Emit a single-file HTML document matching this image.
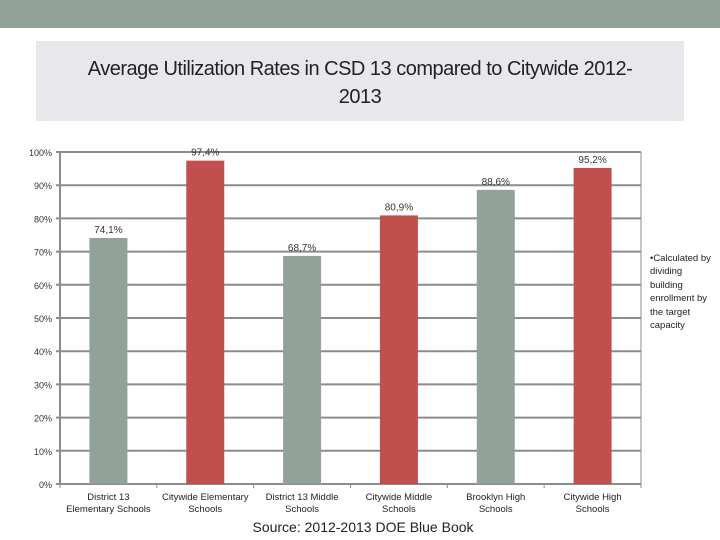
<!DOCTYPE html>
<html><head><meta charset="utf-8"><style>
body{margin:0;width:720px;height:540px;background:#fff;overflow:hidden;font-family:"Liberation Sans",sans-serif;position:relative}
#banner{position:absolute;left:0;top:0;width:720px;height:28px;background:#93a298}
#titlebox{position:absolute;left:36px;top:41px;width:648px;height:80px;background:#e8e8ec;text-align:center;font-size:20px;color:#222;line-height:28px;padding-top:14px;box-sizing:border-box;letter-spacing:-0.5px}
#note{position:absolute;left:650px;top:252px;width:64px;font-size:9.5px;line-height:13.4px;color:#222}
#source{position:absolute;left:0;width:726px;top:519px;text-align:center;font-size:14px;color:#222}
</style></head><body>
<div id="banner"></div>
<div id="titlebox">Average Utilization Rates in CSD 13 compared to Citywide 2012-<br>2013</div>
<svg id="chart" width="720" height="540" style="position:absolute;left:0;top:0"></svg>
<div id="note">•Calculated by dividing building enrollment by the target capacity</div>
<div id="source">Source: 2012-2013 DOE Blue Book</div>
<script>
const categories=[["District 13","Elementary Schools"],["Citywide Elementary","Schools"],["District 13 Middle","Schools"],["Citywide Middle","Schools"],["Brooklyn High","Schools"],["Citywide High","Schools"]];
const values=[74.1,97.4,68.7,80.9,88.6,95.2];
const labels=["74,1%","97,4%","68,7%","80,9%","88,6%","95,2%"];
const colors=["#93a298","#c0504d","#93a298","#c0504d","#93a298","#c0504d"];
const ticks=[0,10,20,30,40,50,60,70,80,90,100];
const NS="http://www.w3.org/2000/svg";
const svg=document.getElementById("chart");
const x0=60,x1=641,y0=484,y100=152;
const bw=(x1-x0)/categories.length;
const y=v=>y0-(y0-y100)*v/100;
function mk(t,a){const e=document.createElementNS(NS,t);for(const k in a)e.setAttribute(k,a[k]);svg.appendChild(e);return e;}
ticks.forEach(t=>{
 const l=mk("line",{x1:x0-4,x2:x1,y1:y(t),y2:y(t),stroke:"#8c8c8c","stroke-width":2});
 
 
 const tx=mk("text",{x:x0-8,y:y(t)+4,"text-anchor":"end","font-size":9,fill:"#333"});
 tx.textContent=t+"%";
 
 
});
const ax=mk("line",{x1:x0,x2:x0,y1:y100,y2:y0,stroke:"#8c8c8c","stroke-width":2});


const rx=mk("line",{x1:x1,x2:x1,y1:y100,y2:y0,stroke:"#8c8c8c","stroke-width":1});


for(let i=0;i<=categories.length;i++){
 const t=mk("line",{x1:x0+i*bw,x2:x0+i*bw,y1:y0,y2:y0+4,stroke:"#8c8c8c","stroke-width":1});
 
 
}
values.forEach((v,i)=>{
 const cx=x0+bw*(i+0.5);
 const r=mk("rect",{x:cx-19,y:y(v),width:38,height:y0-y(v),fill:colors[i]});
 
 
 const t=mk("text",{x:cx,y:y(v)-5,"text-anchor":"middle","font-size":10,fill:"#333"});
 t.textContent=labels[i];
 
 
 categories[i].forEach((s,j)=>{
  const c=mk("text",{x:cx,y:500+j*12,"text-anchor":"middle","font-size":9.5,fill:"#222"});
  c.textContent=s;
  
  
 });
});
</script>
</body></html>
